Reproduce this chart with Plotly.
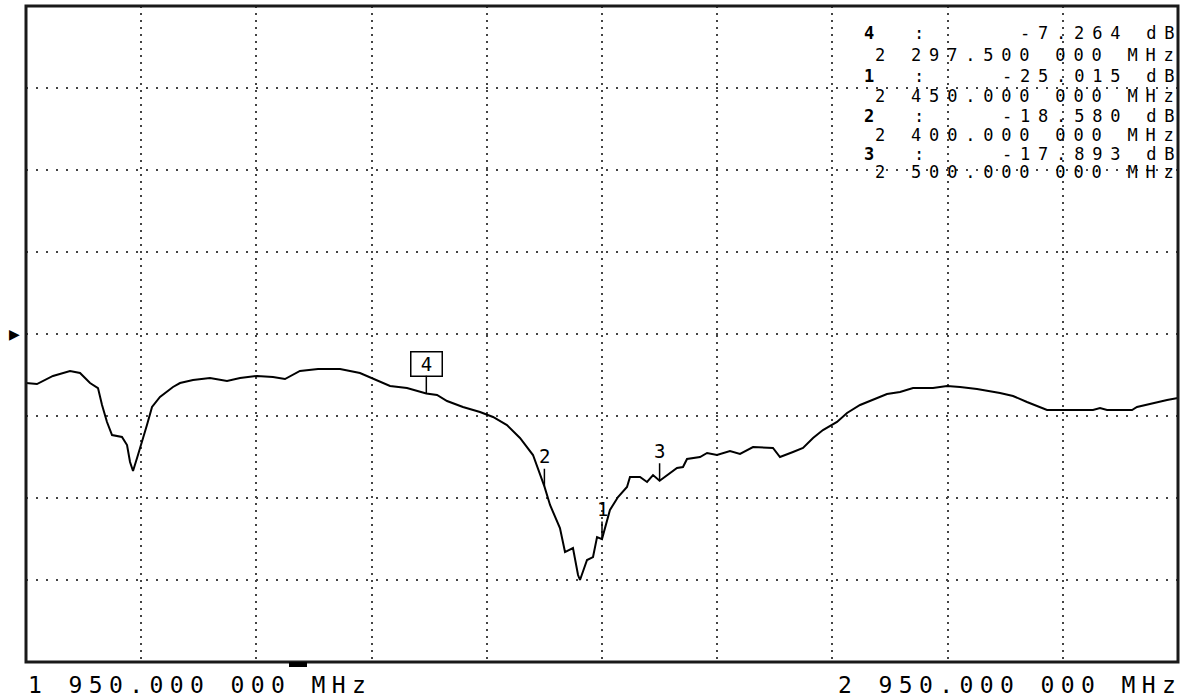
import plotly.graph_objects as go

# ---------------- data ----------------
freq_mhz = [1950.0, 1959.5, 1973.4, 1988.2, 1996.9, 2005.6, 2012.5, 2016.0, 2020.3, 2024.7,
            2033.3, 2037.7, 2040.3, 2042.9, 2047.2, 2050.7, 2055.0, 2059.4, 2066.3, 2077.6,
            2083.7, 2095.0, 2109.7, 2124.5, 2135.8, 2150.5, 2164.4, 2174.8, 2187.8, 2203.5,
            2222.6, 2239.9, 2254.7, 2266.0, 2280.7, 2297.5, 2306.8, 2315.5, 2329.3, 2344.1,
            2355.4, 2367.5, 2378.8, 2390.1, 2400.0, 2404.9, 2413.5, 2417.9, 2424.8, 2429.2,
            2430.9, 2437.0, 2442.2, 2445.7, 2450.0, 2456.9, 2463.9, 2471.7, 2474.3, 2483.0,
            2489.1, 2494.3, 2500.0, 2506.4, 2515.1, 2520.3, 2523.8, 2535.1, 2541.2, 2549.8,
            2561.1, 2569.8, 2581.1, 2598.4, 2604.5, 2615.8, 2624.5, 2633.2, 2641.8, 2654.0,
            2662.7, 2674.0, 2685.2, 2697.4, 2708.7, 2720.0, 2737.3, 2749.5, 2760.8, 2775.5,
            2795.5, 2806.8, 2818.9, 2830.2, 2836.3, 2876.2, 2882.3, 2888.4, 2910.1, 2914.4,
            2928.3, 2940.5, 2950.0]
s21_db = [-5.98, -6.10, -5.12, -4.51, -4.76, -5.98, -6.59, -8.66, -10.73, -12.32,
          -12.56, -13.54, -15.61, -16.71, -14.76, -13.17, -11.10, -8.90, -7.68, -6.46,
          -5.98, -5.61, -5.37, -5.73, -5.37, -5.12, -5.24, -5.49, -4.51, -4.27,
          -4.27, -4.76, -5.61, -6.34, -6.59, -7.264, -7.44, -8.17, -8.90, -9.51,
          -10.12, -11.10, -12.68, -14.76, -18.58, -20.85, -23.66, -26.59, -26.10, -29.39,
          -30.00, -27.56, -27.20, -24.76, -25.015, -21.46, -19.88, -18.66, -17.44, -17.44,
          -18.05, -17.20, -17.893, -17.20, -16.34, -16.22, -15.24, -15.00, -14.51, -14.76,
          -14.27, -14.63, -13.78, -13.90, -15.00, -14.39, -13.90, -12.68, -11.71, -10.73,
          -9.63, -8.66, -8.05, -7.32, -7.07, -6.59, -6.59, -6.34, -6.46, -6.71,
          -7.20, -7.56, -8.29, -8.90, -9.27, -9.27, -9.02, -9.27, -9.27, -8.90,
          -8.41, -8.05, -7.80]

marker_ids = ["4", "1", "2", "3"]            # order of the readout table
marker_freq = [2297.5, 2450.0, 2400.0, 2500.0]
marker_db = [-7.264, -25.015, -18.580, -17.893]
active_marker = "4"

start_mhz = 1950.0
stop_mhz = 2950.0
ref_db = 0.0
db_per_div = 10.0
n_xdiv = 10
n_ydiv = 8

# ---------------- layout helpers ----------------
W, H = 1187, 700
L, R, T, B = 26, 9, 6, 38
PW, PH = W - L - R, H - T - B
MONO = "DejaVu Sans Mono"


def px(x):
    return (x - L) / PW


def py(y):
    return (H - B - y) / PH


def fmt_freq(mhz):
    whole = int(mhz)
    frac = int(round((mhz - whole) * 1e6))
    w = f"{whole:,}".replace(",", " ")
    f = f"{frac:06d}"
    return f"{w}.{f[:3]} {f[3:]} MHz"


def spaced(txt, sp, bold=False):
    t = f"<b>{txt}</b>" if bold else txt
    return f"<span style='letter-spacing:{sp}px'>{t}</span>"


fig = go.Figure()
fig.add_trace(go.Scatter(x=freq_mhz, y=s21_db, mode="lines",
                         line=dict(color="black", width=2), hoverinfo="skip",
                         showlegend=False))

half = db_per_div * n_ydiv / 2
fig.update_layout(
    width=W, height=H, margin=dict(l=L, r=R, t=T, b=B),
    paper_bgcolor="white", plot_bgcolor="white", showlegend=False,
    xaxis=dict(range=[start_mhz, stop_mhz], tick0=start_mhz,
               dtick=(stop_mhz - start_mhz) / n_xdiv, showgrid=True,
               gridcolor="#444", gridwidth=2, griddash="2px,5px",
               showticklabels=False, ticks="", zeroline=False, showline=False,
               fixedrange=True),
    yaxis=dict(range=[ref_db - half, ref_db + half], tick0=ref_db, dtick=db_per_div,
               showgrid=True, gridcolor="#444", gridwidth=2, griddash="2px,8px",
               showticklabels=False, ticks="", zeroline=False, showline=False,
               fixedrange=True),
)

# frame
fig.add_shape(type="rect", xref="paper", yref="paper", x0=0, x1=1, y0=0, y1=1,
              line=dict(color="#1a1a1a", width=3), layer="above")
# small indicator bar under the frame
fig.add_shape(type="rect", xref="paper", yref="paper", x0=px(289), x1=px(307),
              y0=py(667), y1=py(662), fillcolor="black", line=dict(width=0))

anns = []
# reference position arrow
anns.append(dict(xref="paper", yref="y", x=px(14), y=ref_db, text="▶", showarrow=False,
                 font=dict(family="DejaVu Sans", size=14, color="black"),
                 xanchor="center", yanchor="middle"))

# markers on the trace
for mid, mf, md in zip(marker_ids, marker_freq, marker_db):
    a = dict(x=mf, y=md, xref="x", yref="y", text=mid, showarrow=True, arrowhead=0,
             arrowwidth=1.5, arrowcolor="black", ax=0, ay=-30,
             font=dict(family=MONO, size=19, color="black"))
    if mid == active_marker:
        a.update(bordercolor="black", borderwidth=1.5, borderpad=1, bgcolor="white",
                 width=28, height=21, ay=-30)
    anns.append(a)

# readout table (top right)
head_rows = [33, 76, 116, 154]
freq_rows = [55, 96, 135, 172]
RSP = 7.8
RFS = 17
for mid, mf, md, yh, yf in zip(marker_ids, marker_freq, marker_db, head_rows, freq_rows):
    anns.append(dict(xref="paper", yref="paper", x=px(862), y=py(yh), text=spaced(mid, RSP, True),
                     showarrow=False, xanchor="left", yanchor="middle",
                     font=dict(family=MONO, size=RFS, color="black")))
    anns.append(dict(xref="paper", yref="paper", x=px(912), y=py(yh), text=spaced(":", RSP),
                     showarrow=False, xanchor="left", yanchor="middle",
                     font=dict(family=MONO, size=RFS, color="black")))
    anns.append(dict(xref="paper", yref="paper", x=px(1176 + RSP), y=py(yh),
                     text=spaced(f"{md:.3f} dB", RSP), showarrow=False,
                     xanchor="right", yanchor="middle",
                     font=dict(family=MONO, size=RFS, color="black")))
    anns.append(dict(xref="paper", yref="paper", x=px(1176 + RSP), y=py(yf),
                     text=spaced(fmt_freq(mf), RSP), showarrow=False,
                     xanchor="right", yanchor="middle",
                     font=dict(family=MONO, size=RFS, color="black")))

# start / stop labels
BSP = 6.4
anns.append(dict(xref="paper", yref="paper", x=px(26), y=py(685),
                 text=spaced(fmt_freq(start_mhz), BSP), showarrow=False,
                 xanchor="left", yanchor="middle",
                 font=dict(family=MONO, size=23, color="black")))
anns.append(dict(xref="paper", yref="paper", x=px(1178 + BSP), y=py(685),
                 text=spaced(fmt_freq(stop_mhz), BSP), showarrow=False,
                 xanchor="right", yanchor="middle",
                 font=dict(family=MONO, size=23, color="black")))

fig.update_layout(annotations=anns)
fig.write_html("out.html", config={"displayModeBar": False},
               post_script="document.body.style.margin='0px';")
